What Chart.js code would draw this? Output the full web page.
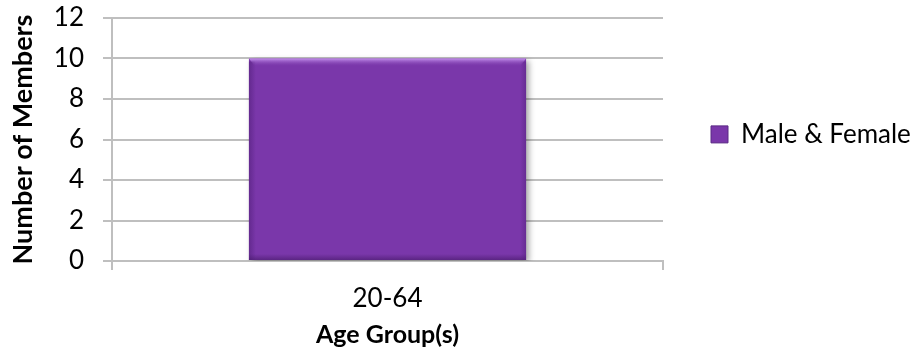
<!DOCTYPE html>
<html>
<head>
<meta charset="utf-8">
<script src="https://cdn.jsdelivr.net/npm/chart.js@4/dist/chart.umd.min.js"></script>
<style>
  html, body { margin: 0; padding: 0; background: #ffffff; }
  #wrap { width: 920px; height: 358px; position: relative; }
</style>
</head>
<body>
<div id="wrap"><canvas id="chart" width="920" height="358"></canvas></div>
<script>
// Chart data
const categories = ['20-64'];
const seriesName = 'Male & Female';
const memberCounts = [10];
const yTicks = [0, 2, 4, 6, 8, 10, 12];

const PURPLE = '#7A37AA';
const GRID = '#BFBFBF';
const FONT = 'Lato, "Open Sans", sans-serif';
const LEGEND_WIDTH = 257;   // room reserved on the right for the legend

// Give the right-hand legend a fixed width instead of the default cap
const legendWidthPlugin = {
  id: 'legendWidth',
  beforeLayout(chart) {
    const lg = chart.legend;
    if (lg && !lg.__fixedWidth) {
      const fit = lg.fit.bind(lg);
      lg.fit = function () {
        fit();
        this.width = LEGEND_WIDTH;
      };
      lg.__fixedWidth = true;
    }
  }
};

// Soft drop shadow behind the bars and a light bevel along their edges
const bevelPlugin = {
  id: 'bevel',
  beforeDatasetsDraw(chart) {
    const ctx = chart.ctx;
    ctx.save();
    ctx.shadowColor = 'rgba(0,0,0,0.35)';
    ctx.shadowBlur = 6;
    ctx.shadowOffsetX = 3;
    ctx.shadowOffsetY = 2;
  },
  afterDatasetsDraw(chart) {
    const ctx = chart.ctx;
    ctx.restore();
    const meta = chart.getDatasetMeta(0);
    meta.data.forEach(bar => {
      const left = bar.x - bar.width / 2;
      const right = bar.x + bar.width / 2;
      const top = Math.min(bar.y, bar.base);
      const bottom = Math.max(bar.y, bar.base);
      ctx.save();
      // top highlight
      const g = ctx.createLinearGradient(0, top, 0, top + 8);
      g.addColorStop(0, 'rgba(200,150,240,0.95)');
      g.addColorStop(1, 'rgba(122,55,170,0)');
      ctx.fillStyle = g;
      ctx.beginPath();
      ctx.moveTo(left, top);
      ctx.lineTo(right, top);
      ctx.lineTo(right - 6, top + 8);
      ctx.lineTo(left + 6, top + 8);
      ctx.closePath();
      ctx.fill();
      // left darker edge
      const gl = ctx.createLinearGradient(left, 0, left + 7, 0);
      gl.addColorStop(0, 'rgba(80,30,120,0.55)');
      gl.addColorStop(1, 'rgba(80,30,120,0)');
      ctx.fillStyle = gl;
      ctx.fillRect(left, top + 3, 7, bottom - top - 3);
      // bottom darker edge
      const gb = ctx.createLinearGradient(0, bottom, 0, bottom - 6);
      gb.addColorStop(0, 'rgba(70,25,105,0.6)');
      gb.addColorStop(1, 'rgba(70,25,105,0)');
      ctx.fillStyle = gb;
      ctx.fillRect(left, bottom - 6, right - left, 6);
      // right darker edge
      const gr = ctx.createLinearGradient(right, 0, right - 6, 0);
      gr.addColorStop(0, 'rgba(80,30,120,0.45)');
      gr.addColorStop(1, 'rgba(80,30,120,0)');
      ctx.fillStyle = gr;
      ctx.fillRect(right - 6, top + 3, 6, bottom - top - 3);
      ctx.restore();
    });
  }
};

new Chart(document.getElementById('chart'), {
  type: 'bar',
  data: {
    labels: categories,
    datasets: [{
      label: seriesName,
      data: memberCounts,
      backgroundColor: PURPLE,
      borderWidth: 0,
      categoryPercentage: 1.0,
      barPercentage: 0.503
    }]
  },
  plugins: [legendWidthPlugin, bevelPlugin],
  options: {
    responsive: false,
    animation: false,
    devicePixelRatio: 1,
    layout: { padding: { top: 18, left: 0, right: 0, bottom: 0 } },
    plugins: {
      tooltip: { enabled: false },
      legend: {
        position: 'right',
        align: 'start',
        // blank spacer title pushes the single legend entry down beside the bar
        title: {
          display: true,
          text: ' ',
          font: { family: FONT, size: 12 },
          padding: { top: 41, bottom: 0 }
        },
        labels: {
          boxWidth: 17,
          boxHeight: 17,
          padding: 48,
          color: '#000000',
          font: { family: FONT, size: 26 },
          generateLabels(chart) {
            return chart.data.datasets.map((ds, i) => ({
              text: ds.label,
              fillStyle: PURPLE,
              strokeStyle: '#5B2A85',
              fontColor: '#000000',
              lineWidth: 1,
              datasetIndex: i
            }));
          }
        }
      }
    },
    scales: {
      x: {
        grid: {
          offset: true,
          drawOnChartArea: false,
          drawTicks: true,
          tickLength: 9,
          color: GRID,
          lineWidth: 2
        },
        border: { color: GRID, width: 2 },
        ticks: {
          color: '#000000',
          font: { family: FONT, size: 26 },
          padding: 13
        },
        title: {
          display: true,
          text: 'Age Group(s)',
          color: '#000000',
          font: { family: FONT, size: 25, weight: 'bold' },
          padding: { top: 0, bottom: 8 }
        },
        afterFit(scale) { scale.height = 97; }
      },
      y: {
        min: 0,
        max: 12,
        afterBuildTicks(scale) { scale.ticks = yTicks.map(v => ({ value: v })); },
        grid: {
          color: GRID,
          lineWidth: 2,
          tickLength: 9
        },
        border: { color: GRID, width: 2 },
        ticks: {
          color: '#000000',
          font: { family: FONT, size: 26 },
          padding: 19
        },
        title: {
          display: true,
          text: 'Number of Members',
          color: '#000000',
          font: { family: FONT, size: 27, weight: 'bold' },
          padding: { top: 7, bottom: 0 }
        },
        afterFit(scale) {
          scale.width = 112;
          scale.paddingTop = 0;
        }
      }
    }
  }
});
</script>
</body>
</html>
